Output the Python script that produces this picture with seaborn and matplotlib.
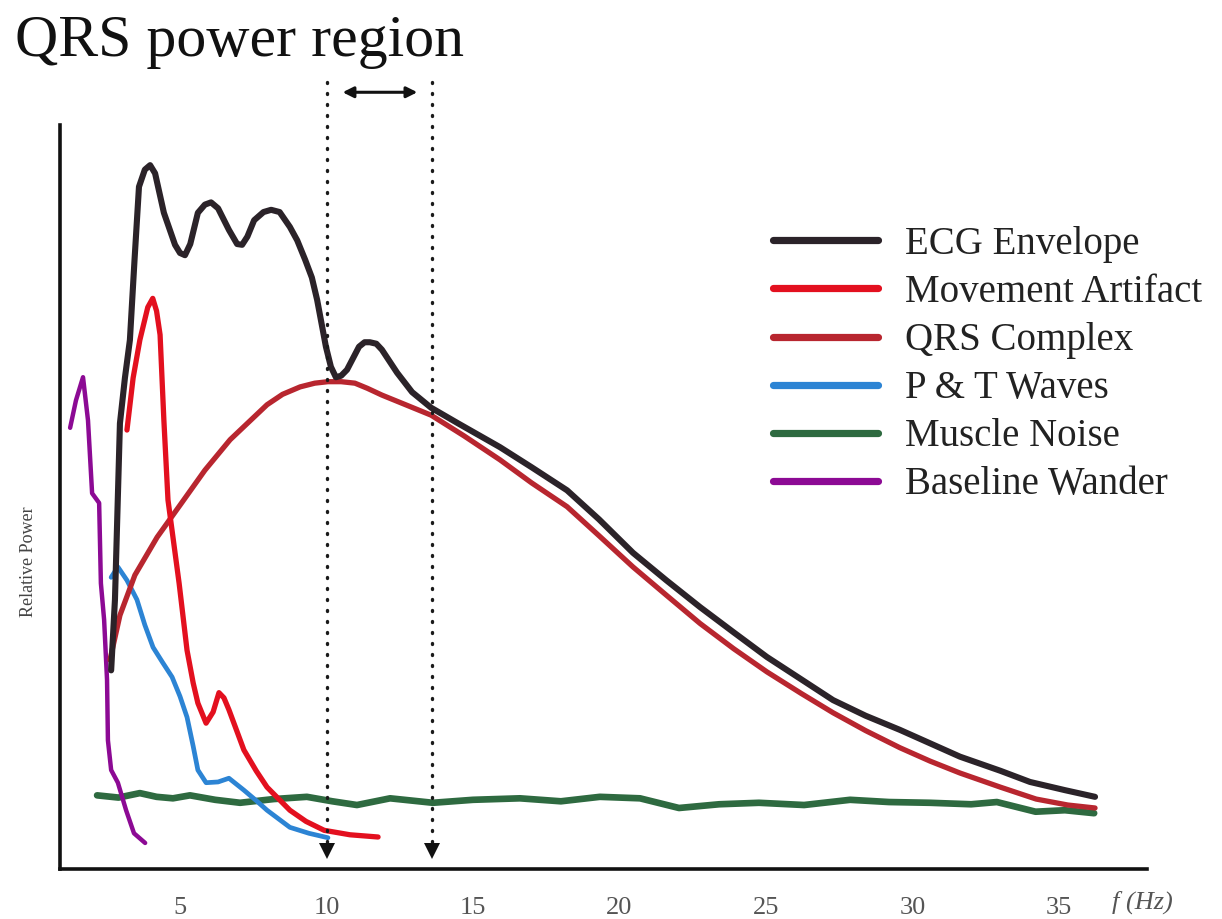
import matplotlib
matplotlib.use("Agg")
import matplotlib.pyplot as plt
import seaborn as sns
import pandas as pd

# ---------------- data (frequency in Hz, relative power 0-100) ----------------
ecg_hz = [2.65, 2.78, 2.95, 3.12, 3.29, 3.45, 3.60, 3.80, 3.98, 4.15, 4.45, 4.83,
          5.00, 5.17, 5.35, 5.61, 5.85, 6.06, 6.30, 6.67, 6.95, 7.12, 7.30, 7.53,
          7.85, 8.11, 8.40, 8.75, 9.00, 9.27, 9.50, 9.68, 9.98, 10.15, 10.32,
          10.50, 10.70, 11.11, 11.30, 11.48, 11.70, 11.89, 12.41, 12.92, 13.57,
          14.49, 15.92, 17.00, 18.21, 19.30, 20.46, 21.60, 22.75, 23.90, 25.03,
          26.20, 27.29, 28.40, 29.57, 31.62, 33.00, 34.01, 35.20, 36.23]
ecg_pw = [26.7, 36.2, 59.9, 66.0, 71.1, 82.0, 91.7, 94.0, 94.6, 93.5, 88.2, 83.9,
          82.8, 82.5, 84.0, 88.2, 89.3, 89.6, 88.8, 85.9, 84.0, 83.9, 85.0, 87.2,
          88.3, 88.6, 88.3, 86.3, 84.5, 81.9, 79.5, 76.5, 70.2, 67.5, 66.1,
          66.3, 67.1, 70.2, 70.8, 70.8, 70.6, 69.8, 66.7, 64.1, 62.0,
          59.9, 56.7, 54.0, 50.9, 47.0, 42.5, 38.8, 35.2, 31.8, 28.5,
          25.5, 22.7, 20.6, 18.7, 15.1, 13.2, 11.7, 10.6, 9.7]

move_hz = [3.19, 3.40, 3.63, 3.90, 4.07, 4.20, 4.32, 4.45, 4.59, 4.97, 5.24, 5.45,
           5.61, 5.89, 6.13, 6.33, 6.50, 6.67, 7.18, 7.60, 7.97, 8.75, 9.30, 9.92,
           10.80, 11.76]
move_pw = [59.0, 66.0, 71.1, 75.5, 76.7, 75.0, 71.8, 60.3, 49.6, 38.4, 29.4, 25.0,
           22.3, 19.6, 21.1, 23.7, 23.0, 21.4, 16.0, 13.2, 11.0, 7.9, 6.4, 5.2,
           4.6, 4.3]

qrs_hz = [2.61, 2.95, 3.46, 4.22, 5.00, 5.85, 6.71, 7.97, 8.50, 9.10, 9.60, 10.05,
          10.50, 10.97, 11.40, 11.89, 12.70, 13.57, 14.70, 15.92, 17.00, 18.21,
          19.30, 20.46, 21.60, 22.75, 23.90, 25.03, 26.20, 27.29, 28.40, 29.57,
          30.60, 31.62, 33.00, 34.22, 35.30, 36.23]
qrs_pw = [28.1, 34.1, 39.5, 44.6, 48.9, 53.6, 57.7, 62.4, 63.8, 64.8, 65.3, 65.5,
          65.5, 65.3, 64.6, 63.7, 62.4, 61.0, 58.2, 55.0, 51.9, 48.7,
          44.8, 40.6, 36.8, 33.0, 29.6, 26.5, 23.6, 21.0, 18.6, 16.3,
          14.5, 12.9, 11.0, 9.4, 8.6, 8.2]

pt_hz = [2.65, 2.88, 3.19, 3.53, 3.80, 4.08, 4.40, 4.73, 5.00, 5.24, 5.45, 5.61,
         5.89, 6.30, 6.67, 7.18, 7.60, 7.97, 8.75, 9.40, 10.05]
pt_pw = [39.2, 40.6, 38.8, 36.2, 32.8, 29.8, 27.8, 25.8, 23.2, 20.4, 16.5, 13.3,
         11.6, 11.7, 12.2, 10.6, 9.2, 7.9, 5.6, 4.8, 4.2]

muscle_hz = [2.17, 2.90, 3.63, 4.20, 4.76, 5.34, 6.20, 7.05, 8.20, 9.33, 10.20,
             11.04, 12.17, 13.63, 15.00, 16.60, 18.00, 19.33, 20.70, 22.03, 23.40,
             24.76, 26.30, 27.87, 29.20, 30.60, 32.00, 32.88, 34.20, 35.20, 36.20]
muscle_pw = [9.9, 9.6, 10.2, 9.7, 9.5, 9.9, 9.3, 8.9, 9.4, 9.7, 9.1,
             8.6, 9.5, 8.9, 9.3, 9.5, 9.1, 9.7, 9.5, 8.2, 8.7,
             8.9, 8.6, 9.3, 9.0, 8.9, 8.7, 9.0, 7.7, 7.9, 7.5]

base_hz = [1.25, 1.45, 1.69, 1.86, 2.00, 2.24, 2.30, 2.41, 2.51, 2.54, 2.65, 2.88,
           3.16, 3.43, 3.81]
base_pw = [59.3, 63.0, 66.1, 60.3, 50.5, 49.2, 38.4, 33.5, 25.4, 17.3, 13.3, 11.6,
           7.9, 4.8, 3.5]

series_names = ["ECG Envelope", "Movement Artifact", "QRS Complex",
                "P & T Waves", "Muscle Noise", "Baseline Wander"]
x_ticks = [5, 10, 15, 20, 25, 30, 35]
region_bounds = [10.0, 13.6]

# ---------------- styling ----------------
colors = {"ECG Envelope": "#2b2329", "Movement Artifact": "#e3101f",
          "QRS Complex": "#b8262f", "P & T Waves": "#2c84d4",
          "Muscle Noise": "#2e6a40", "Baseline Wander": "#8c0a94"}
widths = {"ECG Envelope": 4.4, "Movement Artifact": 3.8, "QRS Complex": 3.8,
          "P & T Waves": 3.4, "Muscle Noise": 4.8, "Baseline Wander": 3.2}

sns.set_style("white")
plt.rcParams["font.family"] = ["Liberation Serif", "DejaVu Serif"]

W, H = 1222, 919
fig = plt.figure(figsize=(W / 100, H / 100), dpi=100)

# pixel geometry of the plot area
px_left, px_right, px_bottom, px_top = 60, 1147, 869, 60
ax = fig.add_axes([px_left / W, 1 - px_bottom / H,
                   (px_right - px_left) / W, (px_bottom - px_top) / H])

hz_per_px = 1 / 29.3
x0 = (px_left - 33.5) * hz_per_px
x1 = (px_right - 33.5) * hz_per_px
pw_per_px = 1 / 7.44
ymax = (px_bottom - px_top) * pw_per_px

data = {
    "ECG Envelope": (ecg_hz, ecg_pw),
    "Movement Artifact": (move_hz, move_pw),
    "QRS Complex": (qrs_hz, qrs_pw),
    "P & T Waves": (pt_hz, pt_pw),
    "Muscle Noise": (muscle_hz, muscle_pw),
    "Baseline Wander": (base_hz, base_pw),
}
draw_order = ["Muscle Noise", "Baseline Wander", "P & T Waves", "QRS Complex",
              "Movement Artifact", "ECG Envelope"]
lines = {}
for name in draw_order:
    xs, ys = data[name]
    df = pd.DataFrame({"f": xs, "p": ys})
    sns.lineplot(data=df, x="f", y="p", ax=ax, sort=False, estimator=None,
                 color=colors[name], linewidth=widths[name], label=name,
                 solid_capstyle="round", solid_joinstyle="round")
    lines[name] = ax.get_lines()[-1]

# QRS power region markers
for b in region_bounds:
    ax.plot([b, b], [3.6, 106.7], color="#1a1a1a", lw=2.4,
            linestyle=(0, (0.3, 3.0)), dash_capstyle="round")
    ax.plot([b], [2.4], marker="v", color="#111111", markersize=11,
            markeredgewidth=0)
ax.annotate("", xy=(13.1, 104.4), xytext=(10.55, 104.4),
            arrowprops=dict(arrowstyle="<|-|>", color="#111111", lw=2.2,
                            mutation_scale=16, shrinkA=0, shrinkB=0))

ax.set_xlim(x0, x1)
ax.set_ylim(0, ymax)
ax.set_xticks(x_ticks)
ax.set_xticklabels([str(t) for t in x_ticks], fontsize=19, color="#555555")
ax.set_yticks([])
ax.tick_params(axis="x", direction="out", length=9, width=2.6, color="#111111",
               pad=11)
for s in ["top", "right"]:
    ax.spines[s].set_visible(False)
for s in ["left", "bottom"]:
    ax.spines[s].set_linewidth(2.6)
    ax.spines[s].set_color("#111111")
ax.spines["left"].set_bounds(0, 100)
ax.set_xlabel("")
ax.set_ylabel("Relative Power", fontsize=13, color="#444444")
ax.yaxis.set_label_coords((37 - px_left) / (px_right - px_left),
                          (px_bottom - 562) / (px_bottom - px_top))

handles = [lines[n] for n in series_names]
leg = ax.legend(handles, series_names, loc="upper left",
                bbox_to_anchor=(773 / W, 1 - 226 / H), bbox_transform=fig.transFigure,
                frameon=False, fontsize=28, handlelength=2.7, handletextpad=0.7,
                labelspacing=0.285, borderpad=0, borderaxespad=0)
for lh, n in zip(leg.get_lines(), series_names):
    lh.set_linewidth(5.2)
    lh.set_solid_capstyle("round")
for t in leg.get_texts():
    t.set_color("#222222")

fig.text(15 / W, 1 - 56 / H, "QRS power region", fontsize=43, color="#111111",
         ha="left", va="baseline")
fig.text(1112 / W, 1 - 902 / H, "f (Hz)", fontsize=19, style="italic",
         color="#555555", ha="left", va="center")

fig.savefig("out.png", dpi=100, facecolor="white")
